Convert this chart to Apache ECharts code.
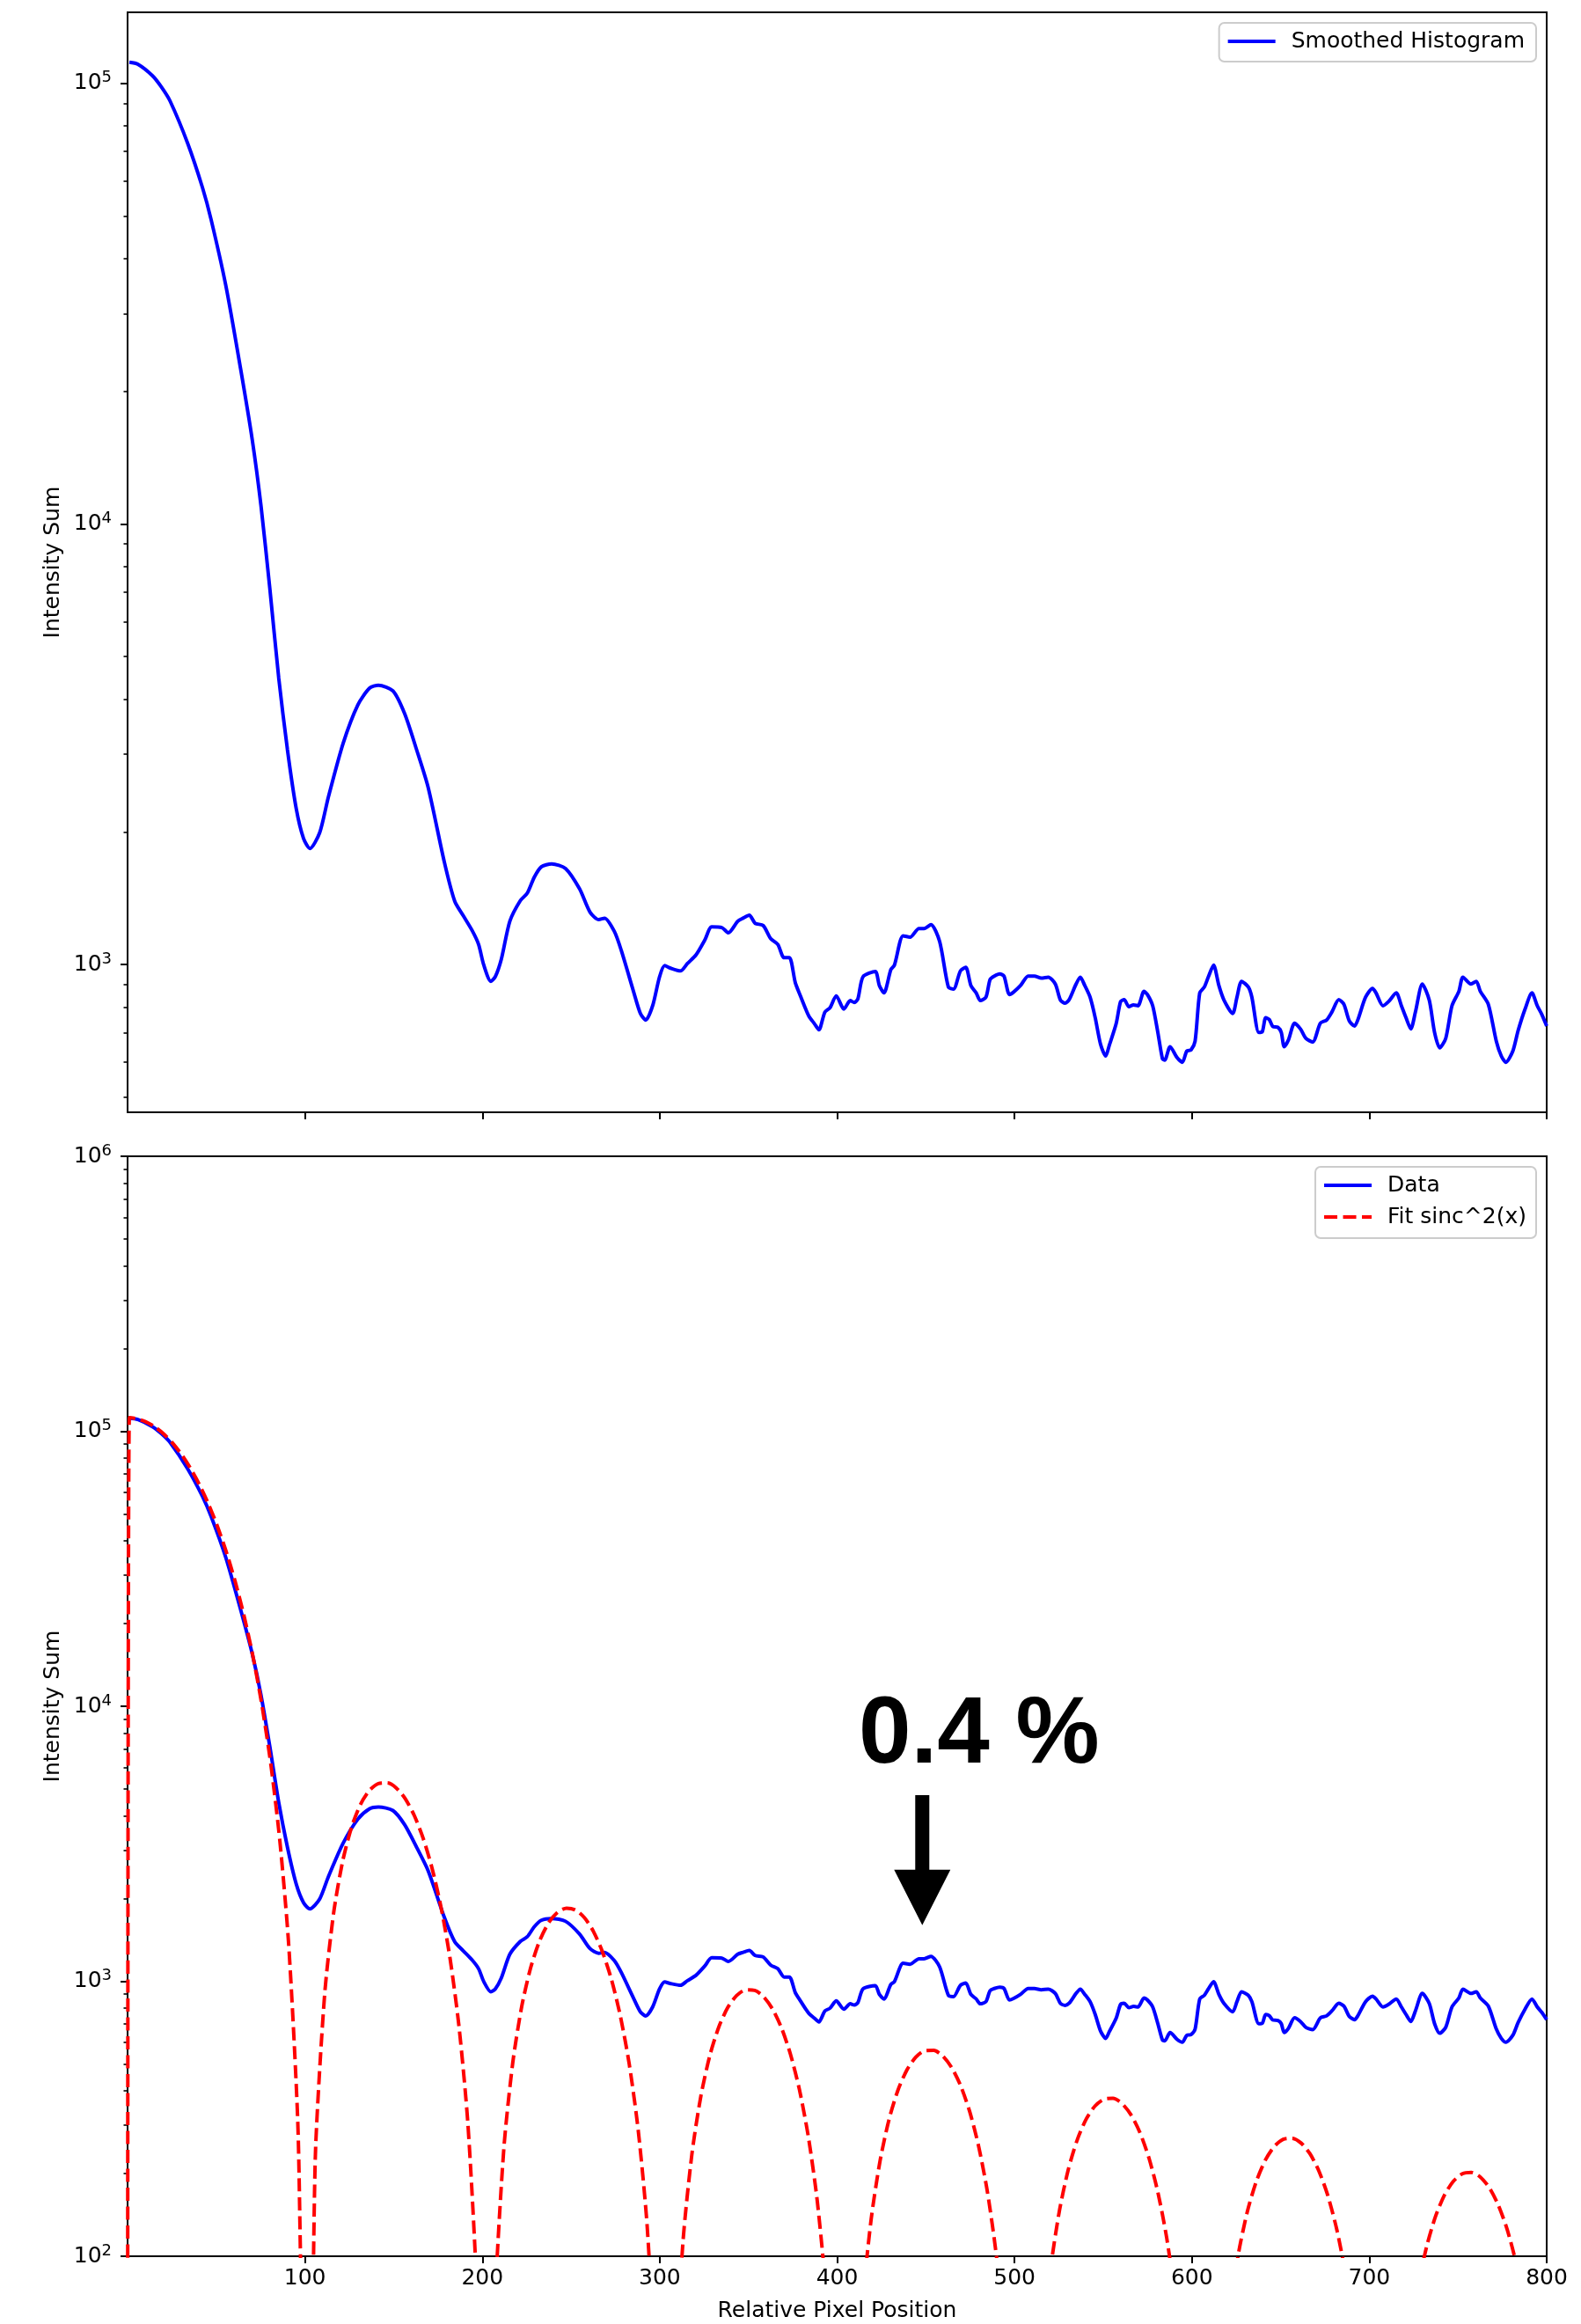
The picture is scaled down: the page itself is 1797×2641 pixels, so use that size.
<!DOCTYPE html>
<html>
<head>
<meta charset="utf-8">
<script src="https://cdn.jsdelivr.net/npm/echarts@6/dist/echarts.min.js"></script>
<style>
html,body{margin:0;padding:0;background:#fff;}
#main{width:1797px;height:2641px;}
</style>
</head>
<body>
<div id="main"></div>
<script>
// ---------- data ----------
const histX = [1,5.8,14.0,19.0,24.0,33.9,42.2,47.1,55.4,63.7,70.3,75.2,80.2,85.2,90.1,95.1,99.2,102.8,108.3,113.2,121.5,129.8,136.4,141.4,149.6,156.2,162.9,169.5,178.6,184.4,189.3,194.3,197.9,200.8,204.8,207.3,210.7,215.5,221.4,225.3,229.3,233.2,239.1,246.9,254.8,260.7,265.6,268.9,274.4,278.3,285.2,289.1,292.1,296,299.9,302.8,305.8,311.7,315.6,320.5,325.4,329.3,335,338.7,344,347,350.5,353.8,358.3,362.6,366.6,370.1,373.1,376.4,379.3,382.3,384.2,387.2,389.7,393.1,396,399.5,403.8,407.4,409.7,411.7,414.6,421.5,423.8,426.4,430.3,432.3,437.2,441.1,446.1,449,452.9,457.8,462.7,465.6,469.5,472.5,475.4,478.4,480.7,483.9,486.2,488.6,491.7,494.1,497.1,499.5,503.4,507.7,511.2,515.1,519,523,525.9,528.5,530.8,534.7,537.1,539.6,542.6,545.5,548.5,551.4,553.4,557.3,559.8,561.8,564.5,567.1,569.6,573,574.9,577.9,580.8,583.4,584.7,587.7,591.6,594.6,597.1,599.5,601.8,604.4,607,609.3,612.2,615.2,618.1,623,625.4,628,631.8,633.8,637.7,639.7,641.6,643.6,645.6,648.5,650.4,652,654.4,657.9,661.3,664.2,668.1,672.4,675.9,678.9,682.8,685.7,688.7,691.7,693.6,697.9,701.8,703.8,707.7,710.9,715.2,718.1,720.7,723.4,726,729.9,733.8,736.8,739.7,743.1,746.6,750.5,752.8,757.3,760.3,762.6,767.1,771.6,774.4,777,780.9,783.9,787.8,791.7,794.7,797.2,800];
const histY = [111500,110400,104000,98100,91000,73000,58000,49000,34700,22500,15500,11000,7130,4475,3077,2255,1931,1833,1991,2399,3175,3883,4237,4303,4176,3707,3075,2518,1706,1393,1289,1193,1110,997,916,938,1028,1254,1396,1451,1579,1666,1692,1652,1485,1314,1264,1274,1189,1077,869,774,748,806,938,994,982,967,1005,1052,1136,1217,1213,1180,1254,1274,1294,1240,1226,1144,1110,1036,1036,910,849,792,762,734,711,780,798,849,792,828,820,836,938,964,896,862,974,997,1162,1153,1207,1207,1232,1127,889,879,967,985,896,862,828,843,924,941,952,941,855,866,896,941,941,931,936,903,830,817,832,903,936,896,843,757,659,620,655,734,824,832,802,810,806,869,855,806,701,611,607,651,615,600,636,640,670,862,889,938,997,896,830,774,843,916,889,843,701,704,757,750,723,720,701,651,674,736,713,680,667,736,748,780,832,812,745,725,750,843,882,862,806,824,862,806,757,714,780,903,830,701,647,680,806,869,936,903,916,869,812,670,620,600,636,708,792,862,806,771,725];

const fitX = [0,1.01,5.05,10.1,15.15,20.2,25.25,30.3,35.35,40.4,45.45,50.5,55.55,60.6,65.65,70.7,75.75,80.8,85.85,90.9,95.95,98.98,
103.0,106.05,111.1,116.15,121.2,126.25,131.3,136.35,141.4,146.45,151.5,156.55,161.6,166.65,171.7,176.75,181.8,186.85,191.9,196.95,199.98,
204.02,207.05,212.1,217.15,222.2,227.25,232.3,237.35,242.4,247.45,252.5,257.55,262.6,267.65,272.7,277.75,282.8,287.85,292.9,297.95,300.98,
305.02,308.05,313.1,318.15,323.2,328.25,333.3,338.35,343.4,348.45,353.5,358.55,363.6,368.65,373.7,378.75,383.8,388.85,393.9,398.95,
409.05,414.1,419.15,424.2,429.25,434.3,439.35,444.4,449.45,454.5,459.55,464.6,469.65,474.7,479.75,484.8,489.85,494.9,499.95,
510.05,515.1,520.15,525.2,530.25,535.3,540.35,545.4,550.45,555.5,560.55,565.6,570.65,575.7,580.75,585.8,590.85,595.9,
616.1,621.15,626.2,631.25,636.3,641.35,646.4,651.45,656.5,661.55,666.6,671.65,676.7,681.75,686.8,691.85,696.9,
717.1,722.15,727.2,732.25,737.3,742.35,747.4,752.45,757.5,762.55,767.6,772.65,777.7,782.75,787.8,792.85,797.9,800];
const fitY = [1,112000,111080,108360,103950,98015,90784,82527,73544,64153,54668,45392,36596,28512,21323,15158,10087,6126,3237,1338,308,46.6,
43.0,251.9,895.5,1768.5,2722.6,3631.4,4394.9,4943.3,5236.9,5265.3,5043.6,4607.8,4009.5,3309.1,2570.0,1852.7,1210.1,683.4,300.2,73.0,11.4,
10.97,66.1,245.7,506.0,810.0,1120.8,1404.0,1631.4,1782.0,1844.3,1815.7,1702.5,1518.4,1282.9,1018.8,750.3,500.1,288.0,128.8,31.9,5.04,
4.9,29.9,112.8,235.7,382.9,537.2,682.0,802.8,887.9,930.1,926.4,878.4,792.0,676.2,542.5,403.5,271.5,157.8,71.2,17.8,
16.9,64.5,135.8,222.3,314.1,401.7,476.1,530.2,559.0,560.4,534.7,485.1,416.7,336.2,251.5,170.2,99.4,45.1,11.3,
10.9,41.7,88.2,145.0,205.9,264.4,314.8,352.0,372.7,375.1,359.4,327.3,282.2,228.6,171.6,116.5,68.3,31.1,
29.1,61.8,102.0,145.3,187.1,223.4,250.6,266.1,268.6,258.0,235.6,203.7,165.5,124.5,84.8,49.8,22.8,
21.5,45.8,75.6,107.9,139.4,166.8,187.4,199.5,201.7,194.2,177.7,153.9,125.3,94.5,64.4,38.0,17.4,10.9];

const xTicks = [100,200,300,400,500,600,700,800];
const topRange = [462, 144800];
const bottomRange = [100, 1000000];
const seriesNames = ['Smoothed Histogram', 'Data', 'Fit sinc^2(x)'];
const xTitle = 'Relative Pixel Position';
const yTitle = 'Intensity Sum';
const annoText = '0.4 %';
const annoTextAt = [480, 7730];
const annoArrowTail = [448, 4750];
const annoArrowTip = [448, 1600];

// ---------- helpers ----------
const L = v => Math.log10(v);
const pairs = (xs, ys) => xs.map((x, i) => [x, L(ys[i])]);
function majors(lo, hi) { const o = []; for (let n = Math.ceil(lo - 1e-9); n <= hi + 1e-9; n++) o.push(n); return o; }
function minors(lo, hi) {
  const o = [];
  for (let n = Math.floor(lo) - 1; n <= Math.ceil(hi); n++)
    for (let k = 2; k <= 9; k++) { const v = n + Math.log10(k); if (v >= lo && v <= hi) o.push(v); }
  return o;
}
const FONT = '"DejaVu Sans", sans-serif';
const black = '#000';

function yAxes(gridIndex, range) {
  const lo = L(range[0]), hi = L(range[1]);
  const maj = majors(lo, hi), mn = minors(lo, hi);
  return [
    {
      gridIndex, type: 'value', position: 'left', min: lo, max: hi,
      axisLine: { show: true, lineStyle: { color: black, width: 2 } },
      axisTick: { show: true, customValues: maj, length: 8, lineStyle: { color: black, width: 2 } },
      axisLabel: {
        show: true, customValues: maj, margin: 18, color: black,
        formatter: v => '{b|10}{s|' + Math.round(v) + '}',
        rich: {
          b: { fontSize: 25, fontFamily: FONT, color: black, lineHeight: 30 },
          s: { fontSize: 18, fontFamily: FONT, color: black, lineHeight: 18, verticalAlign: 'top' }
        }
      },
      splitLine: { show: false },
      name: yTitle, nameLocation: 'middle', nameGap: 69,
      nameTextStyle: { fontSize: 25, fontFamily: FONT, color: black }
    },
    {
      gridIndex, type: 'value', position: 'left', min: lo, max: hi,
      axisLine: { show: false },
      axisTick: { show: true, customValues: mn, length: 4.5, lineStyle: { color: black, width: 1.6 } },
      axisLabel: { show: false },
      splitLine: { show: false }
    }
  ];
}

function xAxis(gridIndex, withLabels) {
  return {
    gridIndex, type: 'value', min: 0, max: 800,
    axisLine: { show: true, onZero: false, lineStyle: { color: black, width: 2 } },
    axisTick: { show: true, customValues: xTicks, length: 8, lineStyle: { color: black, width: 2 } },
    axisLabel: { show: withLabels, customValues: xTicks, margin: 13, fontSize: 25, fontFamily: FONT, color: black },
    splitLine: { show: false },
    name: withLabels ? xTitle : '', nameLocation: 'middle', nameGap: 50,
    nameTextStyle: { fontSize: 25, fontFamily: FONT, color: black }
  };
}

const chart = echarts.init(document.getElementById('main'), null, { renderer: 'canvas' });

const legendCommon = {
  orient: 'vertical', right: 51, itemWidth: 54, itemHeight: 14,
  backgroundColor: 'rgba(255,255,255,0.8)', borderColor: '#cccccc', borderWidth: 2, borderRadius: 6,
  textStyle: { fontSize: 25, fontFamily: FONT, color: black, lineHeight: 28, padding: [0, 0, 0, 13] },
  itemStyle: { opacity: 0 },
  lineStyle: { width: 4 },
  selectedMode: false
};

const lineCommon = { type: 'line', symbol: 'none', showSymbol: false, smooth: 0.25 };

chart.setOption({
  animation: false,
  backgroundColor: '#fff',
  grid: [
    { left: 145, top: 14, width: 1613, height: 1250, show: true, borderColor: black, borderWidth: 2, backgroundColor: 'transparent' },
    { left: 145, top: 1314, width: 1613, height: 1250, show: true, borderColor: black, borderWidth: 2, backgroundColor: 'transparent' }
  ],
  xAxis: [xAxis(0, false), xAxis(1, true)],
  yAxis: [...yAxes(0, topRange), ...yAxes(1, bottomRange)],
  legend: [
    Object.assign({}, legendCommon, { data: [seriesNames[0]], top: 26, padding: [7, 13, 9, 8] }),
    Object.assign({}, legendCommon, { data: [seriesNames[1], seriesNames[2]], top: 1326, itemGap: 8, padding: [7, 11, 10, 8] })
  ],
  series: [
    Object.assign({}, lineCommon, {
      name: seriesNames[0], xAxisIndex: 0, yAxisIndex: 0,
      data: pairs(histX, histY), lineStyle: { color: '#0000ff', width: 4 }, itemStyle: { color: '#0000ff' }, z: 2
    }),
    Object.assign({}, lineCommon, {
      name: seriesNames[1], xAxisIndex: 1, yAxisIndex: 2,
      data: pairs(histX, histY), lineStyle: { color: '#0000ff', width: 4 }, itemStyle: { color: '#0000ff' }, z: 2
    }),
    Object.assign({}, lineCommon, {
      name: seriesNames[2], xAxisIndex: 1, yAxisIndex: 2,
      data: pairs(fitX, fitY), lineStyle: { color: '#ff0000', width: 4, type: [15, 6.5] }, itemStyle: { color: '#ff0000' }, z: 3
    })
  ]
});

// ---------- annotation anchored in data coordinates of the lower plot ----------
const px = (pt) => chart.convertToPixel({ gridIndex: 1 }, [pt[0], L(pt[1])]);
const tp = px(annoTextAt), tail = px(annoArrowTail), tip = px(annoArrowTip);
const shaftHalf = 8, headHalf = 32, headLen = 63;
const ax = tip[0], base = tip[1] - headLen;
chart.setOption({
  graphic: [
    {
      type: 'text', x: tp[0], y: tp[1], z: 100,
      style: { text: annoText, fontSize: 107, fontWeight: 'bold', fontFamily: '"Liberation Sans", Arial, sans-serif', fill: black, align: 'center', verticalAlign: 'middle' }
    },
    {
      type: 'polygon', z: 100,
      shape: { points: [[ax - shaftHalf, tail[1]], [ax + shaftHalf, tail[1]], [ax + shaftHalf, base], [ax + headHalf, base], [ax, tip[1]], [ax - headHalf, base], [ax - shaftHalf, base]] },
      style: { fill: black }
    }
  ]
});
</script>
</body>
</html>
